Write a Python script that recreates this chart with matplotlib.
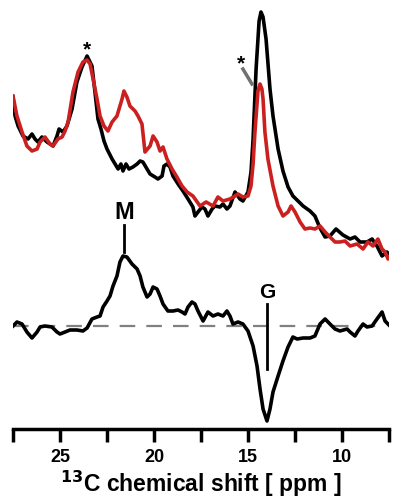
import numpy as np
import matplotlib
matplotlib.use("Agg")
import matplotlib.pyplot as plt

# === DATA (ppm, intensity in arbitrary units) ===
black_ppm = [27.50, 27.39, 27.23, 26.97, 26.70, 26.49, 26.33, 26.17, 25.96, 25.69,
             25.37, 25.16, 25.05, 24.84, 24.63, 24.36, 24.10, 23.83, 23.56, 23.30,
             23.14, 22.98, 22.82, 22.66, 22.50, 22.23, 22.07, 21.91, 21.76, 21.65,
             21.49, 21.33, 21.12, 20.90, 20.74, 20.59, 20.37, 20.21, 19.95, 19.79,
             19.57, 19.47, 19.31, 19.15, 18.99, 18.72, 18.46, 18.19, 17.93, 17.82,
             17.66, 17.45, 17.29, 17.13, 16.91, 16.76, 16.49, 16.33, 16.12, 15.96,
             15.69, 15.43, 15.27, 15.00, 14.84, 14.73, 14.57, 14.41, 14.31, 14.20,
             14.04, 13.83, 13.67, 13.40, 13.14, 12.87, 12.61, 12.34, 12.07, 11.70,
             11.44, 11.17, 10.90, 10.64, 10.32, 9.95, 9.57, 9.31, 9.04, 8.67,
             8.40, 8.14, 7.87, 7.61, 7.45]
black_int = [202, 183, 173, 163, 160, 165, 160, 157, 162, 157,
             153, 163, 170, 167, 173, 190, 217, 232, 243, 233,
             207, 180, 170, 158, 150, 140, 135, 130, 135, 128,
             135, 130, 132, 135, 138, 137, 130, 125, 122, 120,
             123, 133, 135, 132, 123, 115, 108, 100, 92, 83,
             87, 92, 90, 83, 90, 93, 92, 95, 90, 93,
             107, 100, 98, 107, 127, 160, 230, 278, 287, 282,
             260, 210, 183, 150, 128, 112, 103, 98, 93, 88,
             83, 71, 62, 63, 70, 64, 60, 62, 57, 57,
             60, 53, 43, 47, 43]

red_ppm = [27.50, 27.29, 27.02, 26.76, 26.49, 26.22, 26.06, 25.80, 25.53, 25.37,
           25.11, 24.89, 24.73, 24.57, 24.31, 24.04, 23.78, 23.56, 23.40, 23.24,
           23.03, 22.87, 22.66, 22.45, 22.23, 21.97, 21.70, 21.60, 21.44, 21.28,
           21.01, 20.85, 20.64, 20.48, 20.21, 20.05, 19.84, 19.68, 19.52, 19.31,
           19.04, 18.78, 18.51, 18.24, 17.93, 17.55, 17.23, 16.86, 16.60, 16.33,
           15.96, 15.69, 15.53, 15.27, 15.00, 14.84, 14.73, 14.63, 14.52, 14.47,
           14.36, 14.26, 14.20, 14.10, 13.94, 13.67, 13.40, 13.14, 12.87, 12.71,
           12.50, 12.23, 11.97, 11.70, 11.44, 11.17, 10.90, 10.64, 10.37, 10.11,
           9.84, 9.57, 9.20, 8.88, 8.62, 8.35, 8.09, 7.87, 7.71, 7.55, 7.45]
red_int = [203, 183, 167, 153, 148, 150, 157, 162, 155, 153,
           160, 162, 168, 177, 207, 227, 237, 239, 235, 220,
           200, 183, 173, 168, 177, 183, 200, 208, 202, 193,
           188, 183, 175, 147, 153, 163, 157, 148, 152, 140,
           130, 122, 113, 107, 103, 93, 97, 93, 102, 98,
           100, 103, 105, 102, 103, 113, 135, 167, 195, 208,
           215, 210, 200, 167, 140, 113, 93, 83, 87, 93,
           87, 77, 70, 71, 70, 73, 67, 62, 57, 57,
           58, 53, 55, 50, 57, 53, 60, 50, 47, 40, 43]

diff_ppm = [27.55, 27.29, 27.02, 26.76, 26.49, 26.22, 26.06, 25.80, 25.43, 25.16,
            25.00, 24.73, 24.47, 24.10, 23.78, 23.56, 23.30, 23.03, 22.87, 22.71,
            22.50, 22.34, 22.18, 21.97, 21.81, 21.65, 21.44, 21.17, 20.90, 20.74,
            20.59, 20.37, 20.21, 20.05, 19.84, 19.68, 19.52, 19.26, 18.99, 18.72,
            18.51, 18.35, 18.19, 17.98, 17.82, 17.66, 17.39, 17.13, 16.86, 16.60,
            16.33, 16.12, 15.96, 15.80, 15.53, 15.27, 15.00, 14.73, 14.52, 14.36,
            14.20, 13.99, 13.83, 13.67, 13.40, 13.14, 12.87, 12.61, 12.39, 12.07,
            11.70, 11.44, 11.17, 10.90, 10.64, 10.37, 10.11, 9.73, 9.57, 9.31,
            9.15, 8.88, 8.67, 8.40, 8.14, 7.87, 7.71, 7.45]
diff_int = [-1, 4, 2, -6, -12, -6, -1, 0, -1, -6,
            -8, -6, -4, -4, -5, -2, 7, 9, 10, 19,
            25, 30, 40, 50, 64, 70, 69, 62, 57, 50,
            39, 29, 32, 39, 37, 30, 22, 15, 15, 16,
            14, 12, 19, 24, 22, 15, 5, 14, 10, 12,
            10, 15, 10, 2, 4, 2, -5, -20, -40, -63,
            -83, -95, -83, -66, -50, -35, -21, -11, -13, -12,
            -12, -10, 2, 7, 2, -3, -5, -3, -6, -10,
            -5, 2, -1, 0, 7, 14, 5, 0]

TOP_OFFSET = 130
DIFF_OFFSET = 103
xticks_major = [25, 20, 15, 10]
xticks_all = [27.5, 25, 22.5, 20, 17.5, 15, 12.5, 10, 7.5]

# === PLOT ===
plt.rcParams['font.family'] = ['Liberation Sans', 'DejaVu Sans']

fig = plt.figure(figsize=(3.93, 5.02), dpi=100)
ax = fig.add_axes([13 / 393, 72 / 502, 376 / 393, 430 / 502])

ax.plot(black_ppm, np.array(black_int) + TOP_OFFSET, color="black", lw=2.6,
        solid_joinstyle="round")
ax.plot(red_ppm, np.array(red_int) + TOP_OFFSET, color="#cc2020", lw=2.6,
        solid_joinstyle="round")
ax.axhline(DIFF_OFFSET, xmin=0, xmax=0.99, color="#808080", lw=1.6, ls=(0, (7, 5)))
ax.plot(diff_ppm, np.array(diff_int) + DIFF_OFFSET, color="black", lw=2.6,
        solid_joinstyle="round")

# annotations
ax.text(21.6, DIFF_OFFSET + 114, "M", ha="center", va="center",
        fontsize=17, fontweight="bold")
ax.plot([21.6, 21.6], [DIFF_OFFSET + 101, DIFF_OFFSET + 74], color="black", lw=2)
ax.text(13.99, DIFF_OFFSET + 34, "G", ha="center", va="center",
        fontsize=15, fontweight="bold")
ax.plot([13.99, 13.99], [DIFF_OFFSET + 22, DIFF_OFFSET - 43], color="black", lw=2)
ax.text(23.56, TOP_OFFSET + 250, "*", ha="center", va="center",
        fontsize=15, fontweight="bold")
ax.text(15.37, TOP_OFFSET + 236, "*", ha="center", va="center",
        fontsize=15, fontweight="bold")
ax.plot([15.27, 14.79], [TOP_OFFSET + 230, TOP_OFFSET + 215], color="#707070", lw=2.5)

ax.set_xlim(27.5, 7.5)
ax.set_ylim(0, 430)
for side in ["top", "left", "right"]:
    ax.spines[side].set_visible(False)
ax.spines["bottom"].set_linewidth(2.5)
ax.set_yticks([])
ax.set_xticks(xticks_all)
ax.set_xticklabels([str(t) if t in xticks_major else "" for t in xticks_all])
ax.tick_params(axis="x", direction="out", length=9, width=2.5, pad=5,
               labelsize=13)
for lab in ax.get_xticklabels():
    lab.set_fontweight("bold")
ax.set_xlabel("$\\mathbf{^{13}}$C chemical shift [ ppm ]", fontsize=16.5,
              fontweight="bold", labelpad=2)

plt.savefig("out.png", dpi=100)
